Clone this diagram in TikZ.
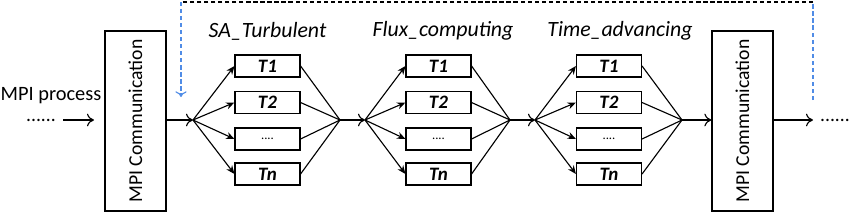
\documentclass[tikz,border=0pt]{standalone}
\usepackage{fontspec}
\setmainfont{Carlito}
\usetikzlibrary{arrows.meta}

\definecolor{loopblue}{RGB}{80,140,230}

\tikzset{
    mpibox/.style={draw, thick, minimum width=61*0.025cm, minimum height=180*0.025cm, inner sep=0pt},
    taskbox/.style={draw, thick, minimum width=65*0.025cm, minimum height=22*0.025cm, inner sep=0pt, font=\bfseries\itshape\fontsize{13.5}{13.5}\selectfont},
    fanarrow/.style={thick, -{Stealth[length=6pt, width=5pt]}},
    flowarrow/.style={thick, -{To[length=5pt, width=9pt]}},
    loopline/.style={thick, dash pattern=on 3pt off 2pt},
}

\begin{document}
\begin{tikzpicture}[x=0.025cm, y=-0.025cm]
    \useasboundingbox (0,0) rectangle (850,212);

    \node[mpibox] (mpiL) at (135.5,121) {};
    \node[mpibox] (mpiR) at (742.5,121) {};
    \node[rotate=90, font=\fontsize{14}{14}\selectfont] at (mpiL) {MPI Communication};
    \node[rotate=90, font=\fontsize{14}{14}\selectfont] at (mpiR) {MPI Communication};

    \node[font=\fontsize{14.5}{14.5}\selectfont, inner sep=0pt] (proc) at (51,96) {MPI process};
    \node[font=\fontsize{14}{14}\selectfont, inner sep=0pt, anchor=base] (dotsL) at (41,121) {......};
    \node[font=\fontsize{14}{14}\selectfont, inner sep=0pt, anchor=base] (dotsR) at (835,121) {......};
    \coordinate (inL) at (63,120);
    \coordinate (outR) at (813,120);

    % split and merge points
    \coordinate (s1) at (193,120);
    \coordinate (m1) at (340,120);
    \coordinate (s2) at (365,120);
    \coordinate (m2) at (510,120);
    \coordinate (s3) at (535,120);
    \coordinate (m3) at (682,120);

    \foreach \g/\x/\s/\m/\name in {a/267.5/s1/m1/SA\_Turbulent, b/443/s2/m2/Flux\_computing, c/620/s3/m3/Time\_advancing} {
        \node[font=\itshape\fontsize{15.5}{15.5}\selectfont] (\g lbl) at (\x,31) {\name};
    }
    \foreach \g/\x/\s/\m in {a/267.5/s1/m1, b/438.5/s2/m2, c/609/s3/m3} {
        \foreach \i/\y/\t in {1/66/T1, 2/102.5/T2, 3/139/{\normalfont\small....}, 4/174/Tn} {
            \node[taskbox] (\g\i) at (\x,\y) {\t};
            \draw[fanarrow] (\s) -- (\g\i.west);
            \draw[thick] (\g\i.east) -- (\m);
        }
    }

    \draw[flowarrow] (inL) -- ++(31,0);
    \draw[flowarrow] (mpiL.east |- s1) -- (s1);
    \draw[flowarrow] (m1) -- (s2);
    \draw[flowarrow] (m2) -- (s3);
    \draw[flowarrow] (m3) -- (mpiR.west |- m3);
    \draw[flowarrow] (mpiR.east |- outR) -- (outR);

    % feedback loop
    \coordinate (fbR) at (813,100);
    \coordinate (fbRtop) at (813,2);
    \coordinate (fbLtop) at (181,2);
    \coordinate (fbL) at (181,97);
    \draw[loopblue, loopline] (fbR) -- (fbRtop);
    \draw[loopline] (fbRtop) -- (fbLtop);
    \draw[loopblue, loopline, -{To[length=4pt, width=8pt]}] (fbLtop) -- (fbL);
\end{tikzpicture}
\end{document}
